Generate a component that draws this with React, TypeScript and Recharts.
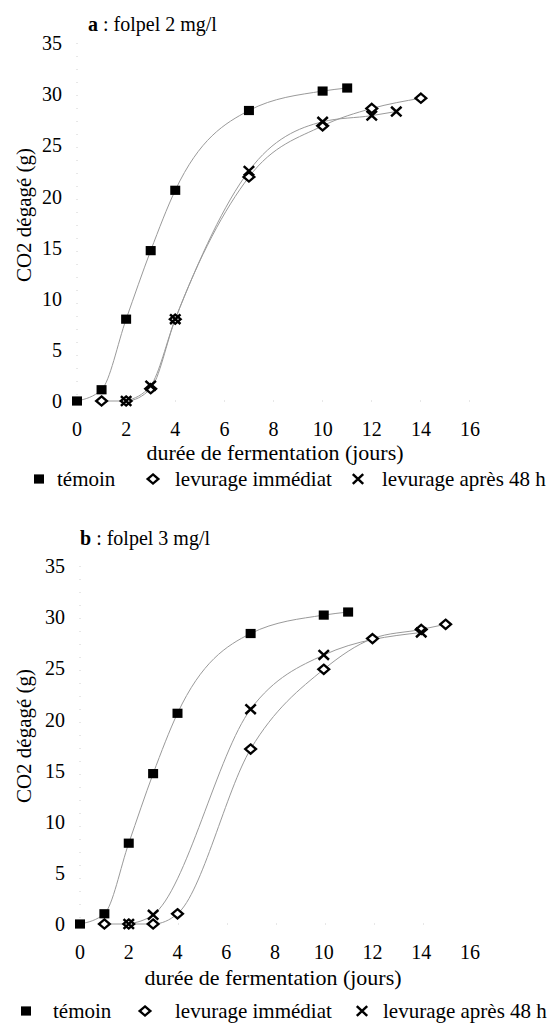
import React from 'react';
import { ComposedChart, Line, XAxis, YAxis, Legend } from 'recharts';

const FONT = '"Liberation Serif", "Times New Roman", serif';

// ---- Panel a : folpel 2 mg/l ----
const daysTemoinA = [0, 1, 2, 3, 4, 7, 10, 11];
const co2TemoinA = [0, 1.1, 8.0, 14.7, 20.6, 28.4, 30.3, 30.6];
const daysImmediatA = [1, 2, 3, 4, 7, 10, 12, 14];
const co2ImmediatA = [0, 0, 1.2, 8.0, 21.9, 26.9, 28.6, 29.6];
const daysApres48A = [2, 3, 4, 7, 10, 12, 13];
const co2Apres48A = [0, 1.5, 8.0, 22.5, 27.3, 27.9, 28.3];

// ---- Panel b : folpel 3 mg/l ----
const daysTemoinB = [0, 1, 2, 3, 4, 7, 10, 11];
const co2TemoinB = [0, 1.0, 7.9, 14.7, 20.6, 28.4, 30.2, 30.5];
const daysImmediatB = [1, 2, 3, 4, 7, 10, 12, 14, 15];
const co2ImmediatB = [0, 0, 0, 1.0, 17.1, 24.9, 27.9, 28.8, 29.3];
const daysApres48B = [2, 3, 7, 10, 14];
const co2Apres48B = [0, 0.9, 21.0, 26.3, 28.5];

const xTicks = [0, 2, 4, 6, 8, 10, 12, 14, 16];
const yTicks = [0, 5, 10, 15, 20, 25, 30, 35];

const seriesNames = ['témoin', 'levurage immédiat', 'levurage après 48 h'];
const titleA = { letter: 'a', rest: ' : folpel 2 mg/l' };
const titleB = { letter: 'b', rest: ' : folpel 3 mg/l' };
const xTitle = 'durée de fermentation (jours)';
const yTitle = 'CO2 dégagé (g)';

const toRows = (days: number[], vals: number[]) => days.map((d, i) => ({ day: d, co2: vals[i] }));

const SquareIcon = ({ cx, cy }: { cx: number; cy: number }) => (
  <rect x={cx - 5} y={cy - 4.6} width={10} height={9.2} fill="#000" />
);
const DiamondIcon = ({ cx, cy }: { cx: number; cy: number }) => (
  <path
    d={`M${cx} ${cy - 4.6} L${cx + 5.4} ${cy} L${cx} ${cy + 4.6} L${cx - 5.4} ${cy} Z`}
    fill="#fff"
    stroke="#000"
    strokeWidth={2.3}
  />
);
const CrossIcon = ({ cx, cy }: { cx: number; cy: number }) => (
  <path
    d={`M${cx - 5.2} ${cy - 4.8} L${cx + 5.2} ${cy + 4.8} M${cx + 5.2} ${cy - 4.8} L${cx - 5.2} ${cy + 4.8}`}
    stroke="#000"
    strokeWidth={2.5}
    fill="none"
  />
);

const icons = [SquareIcon, DiamondIcon, CrossIcon];

const makeDot = (Icon: any, prefix: string) => (p: any) => {
  if (p.cx == null || p.cy == null) return <g key={`${prefix}-${p.index}`} />;
  return (
    <g key={`${prefix}-${p.index}`}>
      <Icon cx={p.cx} cy={p.cy} />
    </g>
  );
};

type LegendPos = { icons: number[]; texts: number[] };

const makeLegend = (pos: LegendPos) => () => (
  <div style={{ position: 'relative', width: 554, height: 24, fontFamily: FONT, fontSize: 21, color: '#000' }}>
    {seriesNames.map((name, i) => {
      const Icon = icons[i];
      return (
        <React.Fragment key={name}>
          <svg width={16} height={16} style={{ position: 'absolute', left: pos.icons[i] - 8, top: 4 }}>
            <Icon cx={8} cy={8} />
          </svg>
          <span
            style={{ position: 'absolute', left: pos.texts[i], top: 0, lineHeight: '24px', whiteSpace: 'nowrap' }}
          >
            {name}
          </span>
        </React.Fragment>
      );
    })}
  </div>
);

type PanelProps = {
  top: number;
  height: number;
  plotTop: number;
  plotLeft: number;
  plotRight: number;
  title: { letter: string; rest: string };
  titleLeft: number;
  titleY: number;
  yLabelX: number;
  yLabelY: number;
  xLabelX: number;
  xLabelY: number;
  legendTop: number;
  legendPos: LegendPos;
  series: { days: number[]; vals: number[] }[];
};

function Panel(props: PanelProps) {
  const {
    top, height, plotTop, plotLeft, plotRight, title, titleLeft, titleY,
    yLabelX, yLabelY, xLabelX, xLabelY, legendTop, legendPos, series,
  } = props;
  const plotBottom = plotTop + 358;
  const xAxisHeight = 30;
  const LegendContent = makeLegend(legendPos);
  return (
    <div style={{ position: 'absolute', left: 0, top, width: 554, height }}>
      <ComposedChart
        width={554}
        height={height}
        margin={{ top: plotTop, right: 554 - plotRight, left: 0, bottom: height - plotBottom - xAxisHeight }}
      >
        <XAxis
          type="number"
          dataKey="day"
          domain={[0, 16]}
          ticks={xTicks}
          height={xAxisHeight}
          tickLine={false}
          tickSize={6}
          tickMargin={15}
          axisLine={{ stroke: '#d0d0d0', strokeDasharray: '1 48', strokeWidth: 1 }}
          tick={{ fill: '#000', fontSize: 20, fontFamily: FONT }}
        />
        <YAxis
          type="number"
          dataKey="co2"
          domain={[0, 35]}
          ticks={yTicks}
          width={plotLeft}
          tickLine={false}
          tickSize={6}
          tickMargin={9}
          axisLine={{ stroke: '#d0d0d0', strokeDasharray: '1 12', strokeWidth: 1 }}
          tick={{ fill: '#000', fontSize: 20, fontFamily: FONT }}
        />
        {series.map((s, i) => (
          <Line
            key={`line-${i}`}
            data={toRows(s.days, s.vals)}
            dataKey="co2"
            type="monotone"
            stroke="#9a9a9a"
            strokeWidth={1}
            dot={makeDot(icons[i], `d${i}`)}
            activeDot={false}
            isAnimationActive={false}
            name={seriesNames[i]}
          />
        ))}
        <Legend
          layout="horizontal"
          verticalAlign="middle"
          align="center"
          content={<LegendContent />}
          wrapperStyle={{ left: 0, top: legendTop, width: 554, height: 24 }}
        />
      </ComposedChart>
      <div
        style={{
          position: 'absolute',
          left: titleLeft,
          top: titleY - 12,
          lineHeight: '24px',
          fontFamily: FONT,
          fontSize: 20,
          whiteSpace: 'nowrap',
        }}
      >
        <b>{title.letter}</b>
        {title.rest}
      </div>
      <div
        style={{
          position: 'absolute',
          left: yLabelX - 100,
          top: yLabelY - 12,
          width: 200,
          height: 24,
          lineHeight: '24px',
          textAlign: 'center',
          fontFamily: FONT,
          fontSize: 21,
          transform: 'rotate(-90deg)',
          whiteSpace: 'nowrap',
        }}
      >
        {yTitle}
      </div>
      <div
        style={{
          position: 'absolute',
          left: xLabelX - 160,
          top: xLabelY - 12,
          width: 320,
          height: 24,
          lineHeight: '24px',
          textAlign: 'center',
          fontFamily: FONT,
          fontSize: 22,
          whiteSpace: 'nowrap',
        }}
      >
        {xTitle}
      </div>
    </div>
  );
}

export default function App() {
  return (
    <div style={{ position: 'absolute', left: 0, top: 0, width: 554, height: 1023, background: '#fff' }}>
      <Panel
        top={0}
        height={500}
        plotTop={43}
        plotLeft={77}
        plotRight={470}
        title={titleA}
        titleLeft={88}
        titleY={24}
        yLabelX={24}
        yLabelY={215}
        xLabelX={275}
        xLabelY={453}
        legendTop={467}
        legendPos={{ icons: [39, 153, 358], texts: [57, 175, 382] }}
        series={[
          { days: daysTemoinA, vals: co2TemoinA },
          { days: daysImmediatA, vals: co2ImmediatA },
          { days: daysApres48A, vals: co2Apres48A },
        ]}
      />
      <Panel
        top={500}
        height={523}
        plotTop={66}
        plotLeft={80}
        plotRight={470}
        title={titleB}
        titleLeft={80}
        titleY={38}
        yLabelX={24}
        yLabelY={236}
        xLabelX={273}
        xLabelY={478}
        legendTop={499}
        legendPos={{ icons: [26, 145, 362], texts: [53, 175, 383] }}
        series={[
          { days: daysTemoinB, vals: co2TemoinB },
          { days: daysImmediatB, vals: co2ImmediatB },
          { days: daysApres48B, vals: co2Apres48B },
        ]}
      />
    </div>
  );
}
